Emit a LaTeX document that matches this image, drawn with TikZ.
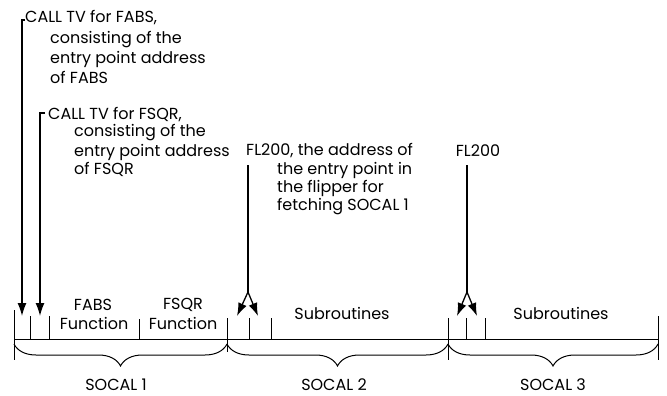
\documentclass[tikz,border=0pt]{standalone}
\usepackage{fontspec}
\setmainfont{Poppins}
\usetikzlibrary{decorations.pathreplacing,arrows.meta}
\begin{document}
\begin{tikzpicture}[x=1pt,y=-1pt,
  lbl/.style={font=\fontsize{16}{18}\selectfont, inner sep=0pt, anchor=west},
  ctr/.style={font=\fontsize{16}{18}\selectfont, inner sep=0pt, anchor=center},
  sc/.style={font=\fontsize{16}{18}\selectfont, inner sep=0pt, anchor=center},
  ar/.style={line width=1.3pt, -{Latex[length=13pt,width=9pt]}},
  tk/.style={line width=1pt},
  brc/.style={decorate, decoration={brace,mirror,amplitude=22pt}, line width=1pt}]
\useasboundingbox (0,0) rectangle (667,396);

% texts
\node[lbl] (a1) at (25,18) {CALL TV for FABS,};
\node[lbl] (a1b) at (50,40) {consisting of the};
\node[lbl] (a1c) at (50,59) {entry point address};
\node[lbl] (a1d) at (50,77) {of FABS};
\node[lbl] (a2) at (48,115) {CALL TV for FSQR,};
\node[lbl] (a2b) at (74,133) {consisting of the};
\node[lbl] (a2c) at (74,152) {entry point address};
\node[lbl] (a2d) at (74,169) {of FSQR};
\node[lbl] (f1) at (246,151) {FL200, the address of};
\node[lbl] (f1b) at (277,170) {the entry point in};
\node[lbl] (f1c) at (277,188) {the flipper for};
\node[lbl] (f1d) at (277,207) {fetching SOCAL 1};
\node[ctr] (f2) at (478,151) {FL200};

\node[ctr] (fabs) at (93,305) {FABS};
\node[ctr] (fabsf) at (94,323) {Function};
\node[ctr] (fsqr) at (183,305) {FSQR};
\node[ctr] (fsqrf) at (183,323) {Function};
\node[ctr] (sub2) at (342,313) {Subroutines};
\node[ctr] (sub3) at (561,313) {Subroutines};
\node[sc] (s1) at (116,385) {SOCAL 1};
\node[sc] (s2) at (334,385) {SOCAL 2};
\node[sc] (s3) at (553,385) {SOCAL 3};

% baseline and ticks
\coordinate (L) at (14,339);
\coordinate (R) at (658,339);
\draw[tk] (L) -- (R);
\draw[tk] (14,310) -- (14,360);
\draw[tk] (30,316) -- (30,339);
\draw[tk] (49,316) -- (49,339);
\draw[tk] (139,319) -- (139,339);
\draw[tk] (227,318) -- (227,352);
\draw[tk] (249,318) -- (249,339);
\draw[tk] (271,318) -- (271,339);
\draw[tk] (448,318) -- (448,360);
\draw[tk] (466,318) -- (466,339);
\draw[tk] (485,318) -- (485,339);
\draw[tk] (658,316) -- (658,360);

% braces
\coordinate (b0) at (14,344);
\coordinate (b1) at (227,344);
\coordinate (b2) at (448,344);
\coordinate (b3) at (658,344);
\draw[brc] (b0) -- (b1);
\draw[brc] (b1) -- (b2);
\draw[brc] (b2) -- (b3);

% arrows from CALL TV texts
\coordinate (c1) at (25,20);
\coordinate (c1k) at (22,20);
\coordinate (t1) at (22,316);
\draw[ar] (c1) -- (c1k) -- (t1);
\coordinate (c2) at (45,113);
\coordinate (c2k) at (40,113);
\coordinate (t2) at (40,316);
\draw[ar] (c2) -- (c2k) -- (t2);

% FL200 forks
\coordinate (p1) at (248,165);
\coordinate (k1) at (248,292);
\coordinate (t3) at (237,316);
\coordinate (t4) at (258,316);
\draw[line width=1.3pt] (p1) -- (k1);
\draw[ar] (k1) -- (t3);
\draw[ar] (k1) -- (t4);

\coordinate (p2) at (467,165);
\coordinate (k2) at (467,292);
\coordinate (t5) at (457,316);
\coordinate (t6) at (477,316);
\draw[line width=1.3pt] (p2) -- (k2);
\draw[ar] (k2) -- (t5);
\draw[ar] (k2) -- (t6);
\end{tikzpicture}
\end{document}
